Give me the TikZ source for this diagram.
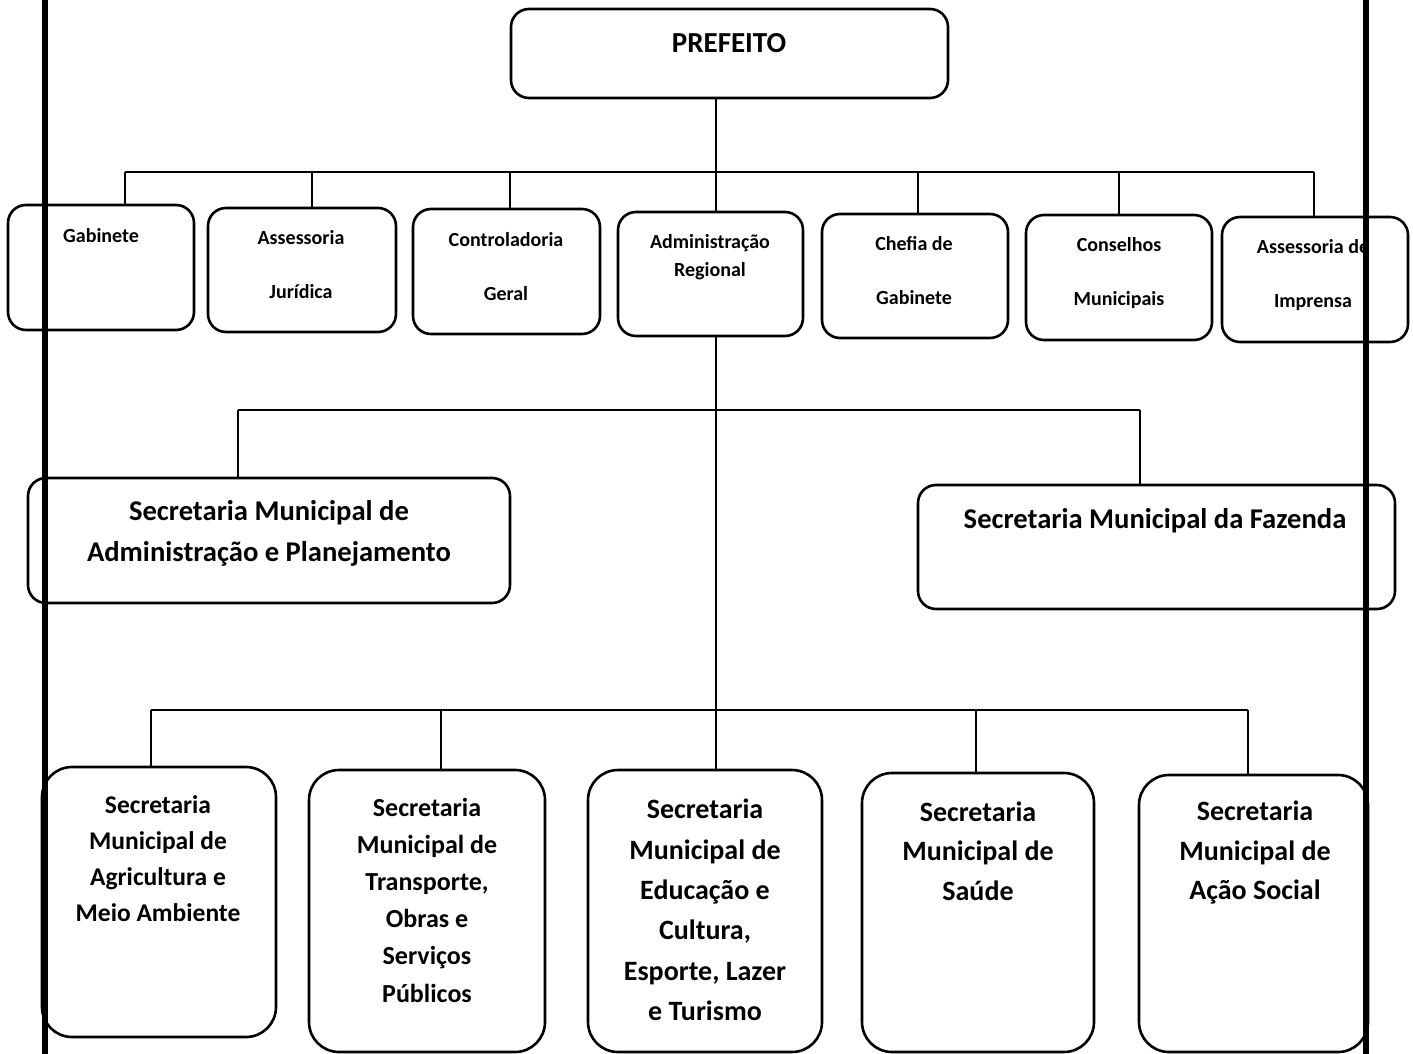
\documentclass[tikz,border=0pt]{standalone}
\usepackage{fontspec}
\setmainfont{Carlito}
\usetikzlibrary{calc}
\begin{document}
\begin{tikzpicture}[x=1pt,y=-1pt,
  box/.style={draw, line width=2.6pt, rounded corners=18pt, inner sep=0pt, outer sep=0pt},
  bigbox/.style={box, rounded corners=30pt},
  conn/.style={line width=2.2pt},
  frameline/.style={line width=5.5pt},
  txt/.style={inner sep=0pt, align=center, text=black},
  fsmall/.style={font=\bfseries\fontsize{20}{54}\selectfont},
  ftight/.style={font=\bfseries\fontsize{20}{28}\selectfont},
  fmid/.style={font=\bfseries\fontsize{28.6}{41}\selectfont}
]
\useasboundingbox (0,0) rectangle (1413,1054);
\fill[white] (0,0) rectangle (1413,1054);

% boxes
\node[box, minimum width=437pt, minimum height=89pt] (pref) at (729.5,53.5) {};
\node[box, minimum width=186pt, minimum height=125pt] (gab) at (101,267.5) {};
\node[box, minimum width=188pt, minimum height=124pt] (asj) at (302,270) {};
\node[box, minimum width=187pt, minimum height=125pt] (ctrl) at (506.5,271.5) {};
\node[box, minimum width=185pt, minimum height=124pt] (adm) at (710.5,274) {};
\node[box, minimum width=186pt, minimum height=124pt] (chef) at (915,276) {};
\node[box, minimum width=186pt, minimum height=125pt] (cons) at (1119,277.5) {};
\node[box, minimum width=186pt, minimum height=125pt] (imp) at (1315,279.5) {};

\node[box, minimum width=482pt, minimum height=125pt] (sadm) at (269,540.5) {};
\node[box, minimum width=477pt, minimum height=124pt] (sfaz) at (1156.5,547) {};

\node[bigbox, minimum width=234pt, minimum height=270pt] (b1) at (159,902) {};
\node[bigbox, minimum width=236pt, minimum height=282pt] (b2) at (427,911) {};
\node[bigbox, minimum width=234pt, minimum height=282pt] (b3) at (705,911) {};
\node[bigbox, minimum width=232pt, minimum height=279pt] (b4) at (978,912.5) {};
\node[bigbox, minimum width=229pt, minimum height=277pt] (b5) at (1253.5,913.5) {};

% texts
\node[txt, font=\bfseries\fontsize{29}{32}\selectfont] (tpref) at (729,43) {PREFEITO};
\node[txt, fsmall] (tgab) at (101,236) {Gabinete};
\node[txt, fsmall] (tasj) at (301,265) {Assessoria\\Jurídica};
\node[txt, fsmall] (tctrl) at (506,267) {Controladoria\\Geral};
\node[txt, ftight] (tadm) at (710,257) {Administração\\Regional};
\node[txt, fsmall] (tchef) at (914,271) {Chefia de\\Gabinete};
\node[txt, fsmall] (tcons) at (1119,273) {Conselhos\\Municipais};
\node[txt, fsmall] (timp) at (1313,275) {Assessoria de\\Imprensa};

\node[txt, fmid] (tsadm) at (269,533) {Secretaria Municipal de\\Administração e Planejamento};
\node[txt, fmid] (tsfaz) at (1155,521) {Secretaria Municipal da Fazenda};

\node[txt, font=\bfseries\fontsize{25.5}{36}\selectfont] (tb1) at (158,859) {Secretaria\\Municipal de\\Agricultura e\\Meio Ambiente};
\node[txt, font=\bfseries\fontsize{26}{37.2}\selectfont] (tb2) at (427,900) {Secretaria\\Municipal de\\Transporte,\\Obras e\\Serviços\\Públicos};
\node[txt, font=\bfseries\fontsize{28}{40.4}\selectfont] (tb3) at (705,910) {Secretaria\\Municipal de\\Educação e\\Cultura,\\Esporte, Lazer\\e Turismo};
\node[txt, font=\bfseries\fontsize{28}{39.5}\selectfont] (tb4) at (978,851) {Secretaria\\Municipal de\\Saúde};
\node[txt, font=\bfseries\fontsize{28}{39.5}\selectfont] (tb5) at (1255,853) {Secretaria\\Municipal de\\Ação Social};

% connector coordinates
\coordinate (d1) at (125,172);
\coordinate (d2) at (312,172);
\coordinate (d3) at (510,172);
\coordinate (d4) at (716,172);
\coordinate (d5) at (918,172);
\coordinate (d6) at (1119,172);
\coordinate (d7) at (1314,172);
\coordinate (m1) at (238,410);
\coordinate (m2) at (1140,410);
\coordinate (l1) at (151,710);
\coordinate (l2) at (441,710);
\coordinate (l4) at (976,710);
\coordinate (l5) at (1248,710);

% connectors
\draw[conn] (pref.south -| d4) -- (d4) -- (d4 |- adm.north);
\draw[conn] (d1) -- (d7);
\draw[conn] (d1) -- (d1 |- gab.north);
\draw[conn] (d2) -- (d2 |- asj.north);
\draw[conn] (d3) -- (d3 |- ctrl.north);
\draw[conn] (d5) -- (d5 |- chef.north);
\draw[conn] (d6) -- (d6 |- cons.north);
\draw[conn] (d7) -- (d7 |- imp.north);
\draw[conn] (adm.south -| d4) -- (b3.north -| d4);
\draw[conn] (m1) -- (m2);
\draw[conn] (m1) -- (m1 |- sadm.north);
\draw[conn] (m2) -- (m2 |- sfaz.north);
\draw[conn] (l1) -- (l5);
\draw[conn] (l1) -- (l1 |- b1.north);
\draw[conn] (l2) -- (l2 |- b2.north);
\draw[conn] (l4) -- (l4 |- b4.north);
\draw[conn] (l5) -- (l5 |- b5.north);

% frame lines
\coordinate (fl) at (45,0);
\coordinate (fr) at (1366,0);
\draw[frameline] (fl) -- (45,1054);
\draw[frameline] (fr) -- (1366,1054);
\end{tikzpicture}
\end{document}
